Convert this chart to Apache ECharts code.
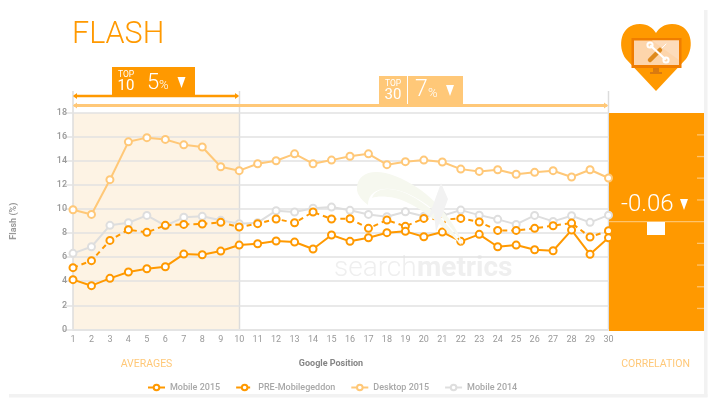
<!DOCTYPE html>
<html><head><meta charset="utf-8">
<style>html,body{margin:0;padding:0;background:#fff}#c{width:716px;height:405px}</style>
<script src="https://cdn.jsdelivr.net/npm/echarts@6/dist/echarts.min.js"></script>
</head><body><div id="c"></div>
<script>
const positions = Array.from({length:30},(_,i)=>String(i+1));
const mobile2015 = [4.13,3.63,4.24,4.77,5.04,5.21,6.26,6.2,6.51,7.01,7.12,7.35,7.26,6.68,7.85,7.32,7.62,8.04,8.15,7.7,8.09,7.32,7.9,6.87,7.01,6.62,6.54,8.26,6.24,7.62];
const preMobilegeddon = [5.13,5.71,7.4,8.29,8.07,8.65,8.73,8.76,8.9,8.51,8.79,9.18,8.87,9.76,9.18,9.2,8.4,9.09,8.57,9.23,9.12,9.23,8.93,8.23,8.23,8.4,8.62,8.84,7.68,8.2];
const desktop2015 = [9.95,9.56,12.45,15.6,15.95,15.8,15.35,15.17,13.53,13.2,13.78,14.03,14.6,13.78,14.08,14.4,14.6,13.7,13.95,14.08,13.92,13.33,13.14,13.28,12.9,13.06,13.2,12.67,13.28,12.59];
const mobile2014 = [6.32,6.87,8.65,8.87,9.48,8.62,9.32,9.4,9.07,8.79,8.87,9.87,9.76,10.07,10.17,9.9,9.56,9.37,9.78,9.4,9.45,9.92,9.5,9.15,8.73,9.48,8.98,9.45,8.9,9.5];
const seriesNames = ['Mobile 2015','PRE-Mobilegeddon','Desktop 2015','Mobile 2014'];
const ORANGE='#ff9900', LIGHT='#ffc878', GREY='#dedede', FONT='Roboto, sans-serif';

function txt(x,y,text,size,fill,extra){return {type:'text',z:20,style:Object.assign({x,y,text,font:(extra&&extra.font)||`${size}px ${FONT}`,fill,textAlign:(extra&&extra.align)||'left',textVerticalAlign:'middle'})};}
function rect(x,y,w,h,fill,z){return {type:'rect',z:z||10,shape:{x,y,width:w,height:h},style:{fill}};}
function vline(x,y1,y2,c,w,z){return {type:'line',z:z||2,shape:{x1:x,y1,x2:x,y2},style:{stroke:c,lineWidth:w||1.5}};}
function seg(x1,y1,x2,y2,c,w,z){return {type:'line',z:z||15,shape:{x1,y1,x2,y2},style:{stroke:c,lineWidth:w,lineCap:'round'}};}
function poly(pts,fill,z){return {type:'polygon',z:z||15,shape:{points:pts},style:{fill}};}
function ring(cx,cy,r,r0,fill,z){return {type:'ring',z:z||11,shape:{cx,cy,r,r0},style:{fill}};}
let pathId=0;
function path(d,fill,z){const name='customPath'+(pathId++);echarts.graphic.registerShape(name,echarts.graphic.extendPath(d,{}));return {type:name,z:z||15,style:{fill}};}

const ticks=[134.7,156.4,178,199.8,243.2,264.9,286.6,308.3].map(y=>rect(697,y-0.5,7,1.3,'#ffc36a',12));

const graphics=[
  rect(704,10,3.5,387,'#f2f2f2',0), rect(9,394,698.5,3.5,'#f2f2f2',0),
  // watermark
  path('M357 190 C356 172 375 168 395 176 C425 187 452 215 464 246 C445 215 420 196 397 190 C380 186 368 192 368 205 C362 200 358 196 357 190 Z','#f6f8ef',0),
  path('M372 198 C376 186 395 186 415 198 C435 210 452 228 462 246 C440 222 415 203 395 198 C385 196 377 196 372 198 Z','#f6f8ef',0),
  poly([[441,183],[448,199],[436,232],[434,213],[428,219]],'#f2f2f2',0),
  {type:'text',z:0,style:{x:334,y:269,text:'search',font:`300 28px ${FONT}`,fill:'#efefef',textVerticalAlign:'middle'}},
  {type:'text',z:0,style:{x:417,y:269,text:'metrics',font:`700 28px ${FONT}`,fill:'#efefef',textVerticalAlign:'middle'}},
  // vertical guides
  vline(73,91,329,'#dcdcdc'), vline(239.5,91,329,'#dcdcdc'), vline(608.5,91,329,'#dcdcdc'),
  // title
  txt(72,35.5,'FLASH',31,ORANGE,{font:`300 30.5px ${FONT}`}),
  // top 10 range
  seg(75,96,237,96,ORANGE,2.5), poly([[73,96],[77,93],[77,99]],ORANGE), poly([[239,96],[235,93],[235,99]],ORANGE),
  rect(112,67,83,28,ORANGE),
  txt(118,74.5,'TOP',8,'#fff',{font:`8.5px ${FONT}`}), txt(117.5,86.5,'10',15,'#fff',{font:`400 15px ${FONT}`}),
  txt(147,83,'5',21,'#fff',{font:`300 22px ${FONT}`}), txt(159,86,'%',13,'#fff',{font:`300 13px ${FONT}`}),
  poly([[177.5,77],[185.5,77],[181.5,88]],'#fff'),
  // top 30 range
  seg(75,105.5,606,105.5,LIGHT,3), poly([[73,105.5],[77,102.5],[77,108.5]],LIGHT), poly([[608,105.5],[604,102.5],[604,108.5]],LIGHT),
  rect(379,76,84,28,LIGHT), rect(407,76,1,28,'#fff',11),
  txt(385,83.5,'TOP',8,'#fff',{font:`8.5px ${FONT}`}), txt(384.5,95.5,'30',15,'#fff',{font:`400 15px ${FONT}`}),
  txt(415,90,'7',23,'#fff',{font:`300 23px ${FONT}`}), txt(428,93.5,'%',13,'#fff',{font:`300 13px ${FONT}`}),
  poly([[446,85],[454,85],[450,96]],'#fff'),
  // correlation panel
  rect(609,113,95,218,ORANGE,5), ...ticks,
  rect(609,221,95,1.3,'#ffc36a',12),
  rect(647,222,18,13,'#fff',13),
  txt(621,205,'-0.06',24,'#fff',{font:`300 24px ${FONT}`}),
  poly([[680,199],[688,199],[684,210]],'#fff'),
  // bottom labels
  txt(146.5,364,'AVERAGES',10,LIGHT,{font:`10.5px ${FONT}`,align:'center'}),
  txt(655.5,364,'CORRELATION',10,LIGHT,{font:`10.5px ${FONT}`,align:'center'}),
  txt(331,364,'Google Position',9,'#858585',{font:`700 9px ${FONT}`,align:'center'}),
  // heart icon
  path('M656 91 L626 59 C617 47 620 24 640 24 C648 24 653 28 656 33 C659 28 664 24 672 24 C692 24 695 47 686 59 Z',ORANGE,6),
  rect(631.5,38,50,30,'#f07d00',7),
  rect(634,40.5,45,24.5,'#fdd5ab',8),
  poly([[652,40.5],[679,40.5],[679,60]],'#fddcbb',9),
  rect(653,68,6,4,'#d97a10',8), rect(650,72,12,2,'#d97a10',8),
  seg(666,44,660.5,49.5,'#fff',1,10),
  seg(660,50,650,60,'#de8a1e',4.5,10),
  seg(651,46,665,59,'#fff',2.2,11),
  ring(650,45,3.6,1.6,'#fff'), ring(666,60,3.6,1.6,'#fff')
];

const mk=(name,data,color,z,dashed)=>({name,type:'line',data,z,color,symbol:'circle',symbolSize:7,showSymbol:true,
  lineStyle:{color,width:2,type:dashed?[5,4]:'solid'},
  itemStyle:{color:'#fff',borderColor:color,borderWidth:2},emphasis:{disabled:true},animation:false});

const band={type:'line',data:[],z:1,silent:true,markArea:{silent:true,itemStyle:{color:'#fdf3e4'},data:[[{xAxis:'1'},{xAxis:'10'}]]}};
const series=[band,mk(seriesNames[0],mobile2015,ORANGE,9),mk(seriesNames[1],preMobilegeddon,ORANGE,8,true),mk(seriesNames[2],desktop2015,LIGHT,7),mk(seriesNames[3],mobile2014,GREY,6)];

const chart=echarts.init(document.getElementById('c'),null,{renderer:'canvas'});
chart.setOption({
  animation:false,backgroundColor:'#fff',
  grid:{left:73,right:107.5,top:113,bottom:75.7,containLabel:false,outerBoundsMode:'none'},
  legend:{data:seriesNames,left:142,top:378,itemWidth:17,itemHeight:7,itemGap:15,
    textStyle:{color:'#a8a8a8',fontSize:9,fontWeight:500,fontFamily:FONT},selectedMode:false},
  xAxis:{type:'category',data:positions,boundaryGap:false,z:2,
    axisLine:{lineStyle:{color:'#e2e2e2',width:1.5}},axisTick:{show:false},
    axisLabel:{color:'#999',fontSize:9,fontFamily:FONT,margin:6,interval:0},splitLine:{show:false}},
  yAxis:{type:'value',min:0,max:18,interval:2,z:2,
    name:'Flash (%)',nameLocation:'middle',nameGap:55,nameRotate:90,
    nameTextStyle:{color:'#999',fontSize:9,fontWeight:700,fontFamily:FONT},
    axisLine:{show:false},axisTick:{show:true,length:10,lineStyle:{color:'#e2e2e2',width:1.5}},
    axisLabel:{color:'#999',fontSize:9,fontFamily:FONT,margin:6,fontWeight:500},
    splitLine:{lineStyle:{color:'#e2e2e2',width:1.5}}},
  series,
  graphic:{elements:graphics}
});
</script></body></html>
